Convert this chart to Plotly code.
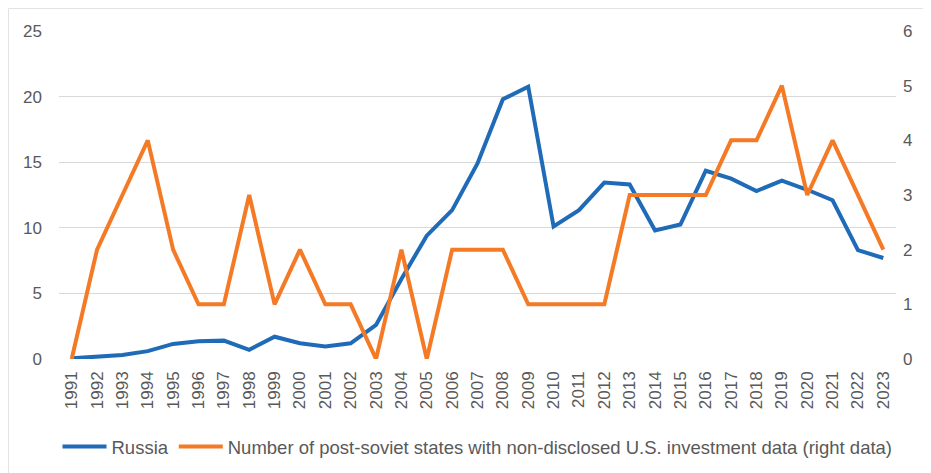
import plotly.graph_objects as go

years = [str(y) for y in range(1991, 2024)]
russia = [0.05, 0.15, 0.3, 0.6, 1.15, 1.35, 1.4, 0.7, 1.7, 1.2,
          0.95, 1.2, 2.6, 6.1, 9.4, 11.35, 14.9, 19.8, 20.75, 10.1,
          11.35, 13.45, 13.3, 9.8, 10.25, 14.35, 13.75, 12.8, 13.6, 12.9,
          12.1, 8.3, 7.7]
nondisclosed = [0, 2, 3, 4, 2, 1, 1, 3, 1, 2,
                1, 1, 0, 2, 0, 2, 2, 2, 1, 1,
                1, 1, 3, 3, 3, 3, 4, 4, 5, 3,
                4, 3, 2]
left_ticks = [0, 5, 10, 15, 20, 25]
right_ticks = [0, 1, 2, 3, 4, 5, 6]

BLUE = "#1F6BB8"
ORANGE = "#F47A26"
GRAY = "#595959"
FONT = "Liberation Sans"

fig = go.Figure()
fig.add_trace(go.Scatter(x=years, y=russia, name="Russia", mode="lines",
                         line=dict(color=BLUE, width=4), yaxis="y"))
fig.add_trace(go.Scatter(x=years, y=nondisclosed,
                         name="Number of post-soviet states with non-disclosed U.S. investment data (right data)",
                         mode="lines", line=dict(color=ORANGE, width=4), yaxis="y2"))

# page body has an 8px margin, so the figure is sized and offset to compensate
fig.update_layout(
    width=923, height=465,
    margin=dict(l=51, r=35, t=23, b=114, autoexpand=False),
    plot_bgcolor="white", paper_bgcolor="white",
    font=dict(family=FONT, size=16, color=GRAY),
    showlegend=True,
    legend=dict(orientation="h", x=0.5, xanchor="center", yref="container",
                y=0.056, yanchor="middle",
                font=dict(size=18.5, color=GRAY), itemwidth=44, tracegroupgap=0),
    xaxis=dict(type="category", range=[-0.5, len(years) - 0.5], tickangle=-90,
               showgrid=False, zeroline=False, automargin=False,
               showline=False, ticks="", tickfont=dict(size=17, color=GRAY),
               ticklabelstandoff=8),
    yaxis=dict(range=[0, 25], tickvals=left_ticks, showgrid=True, gridcolor="#D9D9D9",
               gridwidth=1, zeroline=False, showline=False, ticks="", automargin=False,
               tickfont=dict(size=17, color=GRAY), ticklabelstandoff=16),
    yaxis2=dict(range=[0, 6], tickvals=right_ticks, overlaying="y", side="right",
                showgrid=False, zeroline=False, showline=False, ticks="", automargin=False,
                tickfont=dict(size=17, color=GRAY), ticklabelstandoff=6),
    shapes=[dict(type="rect", xref="paper", yref="paper", x0=-0.0603, x1=1.06,
                 y0=-0.40, y1=1.0686, line=dict(color="#E3E3E3", width=1), layer="below")],
)

fig.write_html("out.html")
